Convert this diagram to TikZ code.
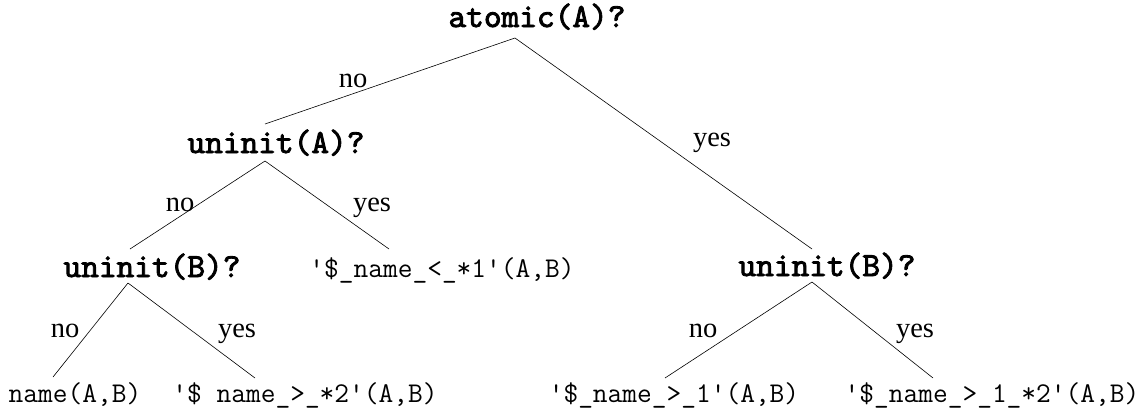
\documentclass[tikz,border=0pt]{standalone}
\usepackage{fontspec}
\setmainfont{Liberation Serif}
\newfontfamily\qfont{lmmono10-regular.otf}[FakeBold=2.5]
\begin{document}
\begin{tikzpicture}[x=1pt,y=-1pt,
  q/.style={anchor=base,inner sep=0pt,font=\fontsize{33.7}{36}\selectfont\qfont},
  leaf/.style={anchor=base,inner sep=0pt,font=\fontsize{28.6}{30}\selectfont\ttfamily},
  lab/.style={anchor=base,inner sep=0pt,font=\fontsize{28.5}{30}\selectfont},
  edge/.style={draw,line width=0.6pt}]
\useasboundingbox (0,0) rectangle (1144,410);
% decision nodes
\node[q] (atomic) at (537,27) {atomic(A)?};
\node[q] (uA) at (276,153) {uninit(A)?};
\node[q] (uBl) at (152,277) {uninit(B)?};
\node[q] (uBr) at (827,276) {uninit(B)?};
% leaves
\node[leaf] (l1) at (442,277) {'\$\_name\_<\_*1'(A,B)};
\node[leaf] (l2) at (75,402) {name(A,B)};
\node[leaf] (l3) at (305,402) {'\$ name\_>\_*2'(A,B)};
\node[leaf] (l4) at (674,402) {'\$\_name\_>\_1'(A,B)};
\node[leaf] (l5) at (992,402) {'\$\_name\_>\_1\_*2'(A,B)};
% connector end points
\coordinate (atomicS) at (515,38);
\coordinate (uAN) at (265,124);
\coordinate (uAS) at (265,161);
\coordinate (uBrN) at (812,249);
\coordinate (uBrS) at (812,282);
\coordinate (uBlN) at (130,249);
\coordinate (uBlS) at (128,283);
\coordinate (l1N) at (389,249);
\coordinate (l2N) at (53,377);
\coordinate (l3N) at (255,378);
\coordinate (l4N) at (665,378);
\coordinate (l5N) at (933,378);
% connectors
\path[edge] (atomicS) -- (uAN);
\path[edge] (atomicS) -- (uBrN);
\path[edge] (uAS) -- (uBlN);
\path[edge] (uAS) -- (l1N);
\path[edge] (uBlS) -- (l2N);
\path[edge] (uBlS) -- (l3N);
\path[edge] (uBrS) -- (l4N);
\path[edge] (uBrS) -- (l5N);
% labels
\node[lab] (n1) at (353,87) {no};
\node[lab] (y1) at (712,146) {yes};
\node[lab] (n2) at (180,211) {no};
\node[lab] (y2) at (372,211) {yes};
\node[lab] (n3) at (65,337) {no};
\node[lab] (y3) at (237,337) {yes};
\node[lab] (n4) at (703,337) {no};
\node[lab] (y4) at (915,337) {yes};
\end{tikzpicture}
\end{document}
